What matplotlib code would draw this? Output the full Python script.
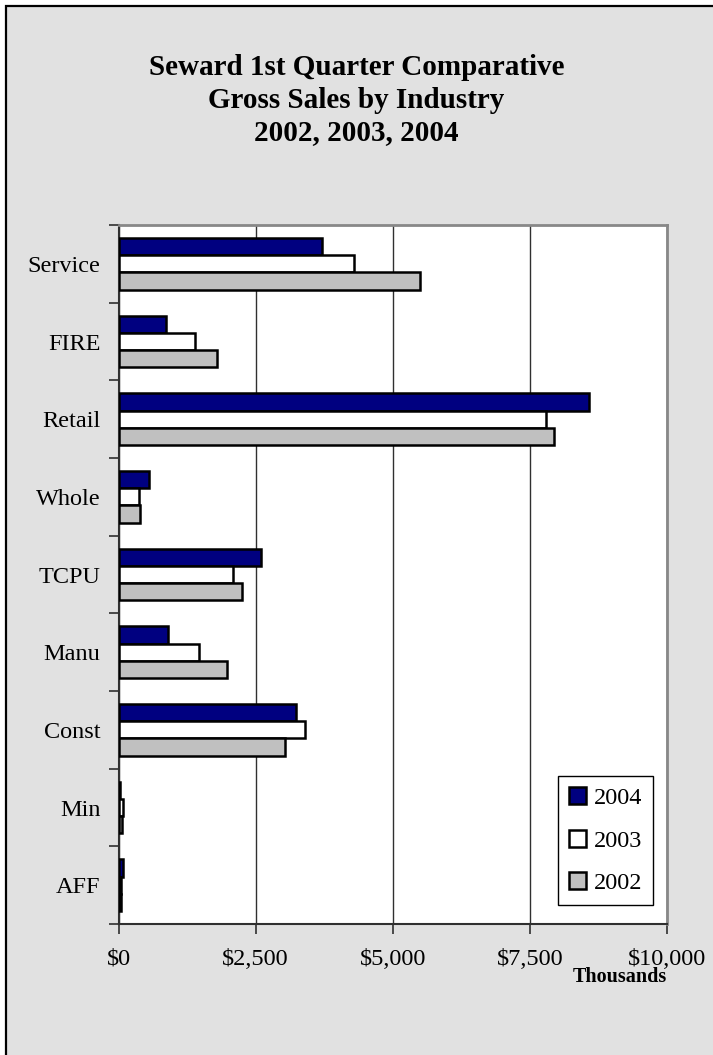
import numpy as np
import matplotlib.pyplot as plt
from matplotlib.patches import Rectangle

plt.rcParams['font.family'] = ['Liberation Serif', 'DejaVu Serif']

# Industries, listed bottom to top as they appear on the y axis
industries = ['AFF', 'Min', 'Const', 'Manu', 'TCPU', 'Whole', 'Retail', 'FIRE', 'Service']

# First quarter gross sales, thousands of dollars
sales_2004 = [73, 30, 3237, 894, 2598, 562, 8571, 858, 3717]
sales_2003 = [50, 80, 3401, 1473, 2080, 380, 7786, 1387, 4300]
sales_2002 = [45, 70, 3036, 1971, 2257, 390, 7932, 1795, 5505]

years = ['2004', '2003', '2002']
colors = ['#000080', '#ffffff', '#c0c0c0']
xticks = [0, 2500, 5000, 7500, 10000]
xtick_labels = ['$0', '$2,500', '$5,000', '$7,500', '$10,000']

fig = plt.figure(figsize=(7.13, 10.55), dpi=100)
fig.patch.set_facecolor('white')

# gray chart area with a black frame
bg = Rectangle((6 / 713, -0.1), 1.2, 1 - 6 / 1055 + 0.1, transform=fig.transFigure,
               facecolor='#e1e1e1', edgecolor='black', linewidth=1.6, zorder=-5)
fig.patches.append(bg)

ax = fig.add_axes([118.5 / 713, 1 - 924 / 1055, (667 - 118.5) / 713, (924 - 225) / 1055])
ax.set_zorder(2)
ax.set_facecolor('white')

y = np.arange(len(industries))
w = 1 / 4.5
series = [sales_2004, sales_2003, sales_2002]
offsets = [w, 0, -w]
for vals, off, col, yr in zip(series, offsets, colors, years):
    ax.barh(y + off, vals, height=w, color=col, edgecolor='black', linewidth=1.8,
            label=yr, zorder=3)

ax.set_xlim(0, 10000)
ax.set_ylim(-0.5, len(industries) - 0.5)

ax.set_xticks(xticks)
ax.set_xticklabels(xtick_labels, fontsize=17.5)
ax.set_yticks(y)
ax.set_yticklabels(industries, fontsize=17.5)
ax.set_yticks(np.arange(-0.5, len(industries)), minor=True)
ax.tick_params(axis='y', which='major', length=0, pad=13)
ax.tick_params(axis='y', which='minor', length=7, width=1.2, color='#303030')
ax.tick_params(axis='x', length=7, width=1.2, color='#303030', pad=11)

ax.xaxis.grid(True, color='#303030', linewidth=1)
ax.set_axisbelow(True)

for side in ['left', 'bottom']:
    ax.spines[side].set_color('#303030')
    ax.spines[side].set_linewidth(1.5)
for side in ['top', 'right']:
    ax.spines[side].set_color('#888888')
    ax.spines[side].set_linewidth(2)

leg = ax.legend(loc='lower right', bbox_to_anchor=(0.9745, 0.027), borderaxespad=0,
                fontsize=17.5, frameon=True, fancybox=False, edgecolor='black',
                framealpha=1, handlelength=0.7, handleheight=0.7, handletextpad=0.3,
                labelspacing=0.85, borderpad=0.45)
leg.get_frame().set_linewidth(1)

fig.text(0.5, 1 - 100 / 1055, 'Seward 1st Quarter Comparative\nGross Sales by Industry\n2002, 2003, 2004',
         ha='center', va='center', fontsize=21, fontweight='bold', linespacing=1.28)
fig.text(620 / 713, 1 - 977 / 1055, 'Thousands', ha='center', va='center',
         fontsize=14.5, fontweight='bold')

fig.savefig('out.png', dpi=100, facecolor=fig.get_facecolor())
